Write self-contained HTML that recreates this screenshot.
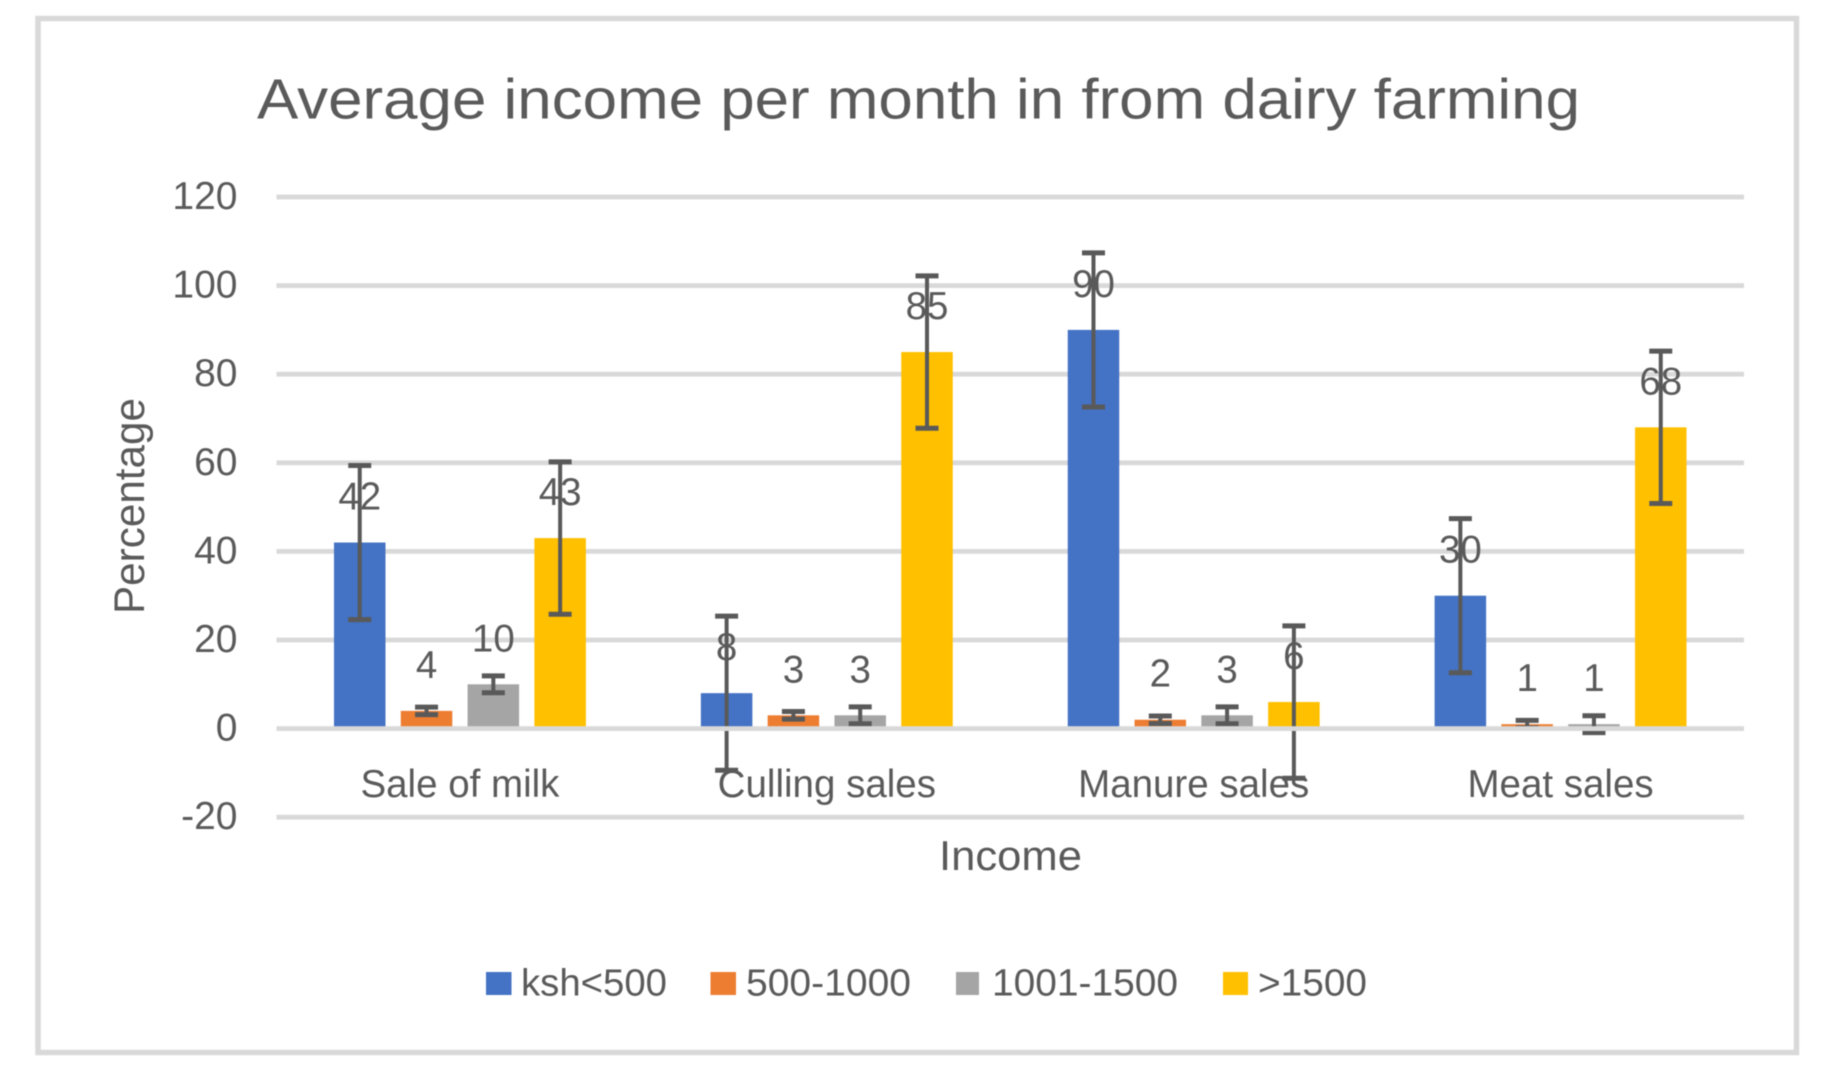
<!DOCTYPE html>
<html lang="en">
<head>
<meta charset="utf-8">
<title>Average income per month from dairy farming</title>
<style>
html,body{margin:0;padding:0;background:#fff;}
svg{display:block;filter:blur(0.6px);}
text{font-family:"Liberation Sans",sans-serif;fill:#5a5a5a;}
</style>
</head>
<body>
<svg id="chart" xmlns="http://www.w3.org/2000/svg" width="1826" height="1077" viewBox="0 0 1826 1077">
  <rect x="0" y="0" width="1826" height="1077" fill="#ffffff"/>
  <rect x="38" y="18.5" width="1758.500" height="1034" fill="#ffffff" stroke="#d9d9d9" stroke-width="5.500"/>
  <text x="257" y="118.500" font-size="57" textLength="1323" lengthAdjust="spacingAndGlyphs">Average income per month in from dairy farming</text>
  <g id="grid"></g>
  <g id="yticks"></g>
  <g id="bars"></g>
  <g id="labels"></g>
  <g id="errors"></g>
  <g id="zero"></g>
  <g id="cats"></g>
  <text transform="translate(144 614) rotate(-90)" x="0" y="0" font-size="43" textLength="216" lengthAdjust="spacingAndGlyphs">Percentage</text>
  <text x="939" y="870" font-size="42" textLength="143" lengthAdjust="spacingAndGlyphs">Income</text>
  <g>
    <rect x="486" y="972" width="25.500" height="23" fill="#4472c4"/>
    <text x="521" y="995.500" font-size="38" textLength="146" lengthAdjust="spacingAndGlyphs">ksh&lt;500</text>
    <rect x="710.500" y="972" width="25.500" height="23" fill="#ed7d31"/>
    <text x="746" y="995.500" font-size="38" textLength="165" lengthAdjust="spacingAndGlyphs">500-1000</text>
    <rect x="956" y="972" width="23" height="23" fill="#a5a5a5"/>
    <text x="992" y="995.500" font-size="38" textLength="186" lengthAdjust="spacingAndGlyphs">1001-1500</text>
    <rect x="1223" y="972" width="25" height="23" fill="#ffc000"/>
    <text x="1258" y="995.500" font-size="38" textLength="109" lengthAdjust="spacingAndGlyphs">&gt;1500</text>
  </g>
</svg>
<script>
const categories = ["Sale of milk", "Culling sales", "Manure sales", "Meat sales"];
const yTicks = [120, 100, 80, 60, 40, 20, 0, -20];
const seriesKsh500 = [42, 8, 90, 30];
const series500to1000 = [4, 3, 2, 1];
const series1001to1500 = [10, 3, 3, 1];
const seriesOver1500 = [43, 85, 6, 68];
const errorKsh500 = [17.4, 17.4, 17.4, 17.4];
const error500to1000 = [0.85, 0.85, 0.85, 0.85];
const error1001to1500 = [1.9, 1.9, 1.9, 1.9];
const errorOver1500 = [17.2, 17.2, 17.2, 17.2];

const allSeries = [seriesKsh500, series500to1000, series1001to1500, seriesOver1500];
const allErrors = [errorKsh500, error500to1000, error1001to1500, errorOver1500];
const seriesColors = ["#4472c4", "#ed7d31", "#a5a5a5", "#ffc000"];
const seriesKeys = ["ksh-under-500", "500-1000", "1001-1500", "over-1500"];

const plotLeft = 276.5, plotRight = 1744;
const zeroY = 728.6, unitPx = 4.43;
const barPitch = 66.8, barWidth = 51.5;
const band = (plotRight - plotLeft) / categories.length;
const axisColor = "#d9d9d9", errorColor = "#595959";

function yScale(v) { return zeroY - v * unitPx; }
function groupCenter(c) { return plotLeft + band * (c + 0.5); }
function barCenter(c, s) { return groupCenter(c) + (s - 1.5) * barPitch; }

function make(tag, parentId, props, content) {
  const el = document.createElementNS("http://www.w3.org/2000/svg", tag);
  for (const k in props) el.setAttribute(k, props[k]);
  if (content !== undefined) el.textContent = content;
  document.getElementById(parentId).appendChild(el);
  return el;
}

yTicks.forEach(function (t) {
  if (t !== 0) {
    const line = make("rect", "grid", { x: plotLeft, y: yScale(t) - 2.4, width: plotRight - plotLeft, height: 4.8, fill: axisColor });
    
    
  }
  const label = make("text", "yticks", { x: 237.5, y: yScale(t) + 12, "font-size": 39, "text-anchor": "end" }, String(t));
  
  
});

const zeroLine = make("rect", "zero", { x: plotLeft, y: yScale(0) - 2.4, width: plotRight - plotLeft, height: 4.8, fill: axisColor });



categories.forEach(function (name, c) {
  const cat = make("text", "cats", { x: groupCenter(c), y: 797, "font-size": 38.5, "text-anchor": "middle" }, name);
  
  

  allSeries.forEach(function (values, s) {
    const v = values[c];
    const cx = barCenter(c, s);
    const err = allErrors[s][c];

    const bar = make("rect", "bars", { x: cx - barWidth / 2, y: yScale(v), width: barWidth, height: zeroY - yScale(v), fill: seriesColors[s] });
    
    

    const valueLabel = make("text", "labels", { x: cx, y: yScale(v) - 33, "font-size": 38.5, "text-anchor": "middle" }, String(v));
    
    

    const top = yScale(v + err), bottom = yScale(v - err);
    const stem = make("line", "errors", { x1: cx, x2: cx, y1: top, y2: bottom, stroke: errorColor, "stroke-width": 4 });
    
    

    const capTop = make("line", "errors", { x1: cx - 11.5, x2: cx + 11.5, y1: top, y2: top, stroke: errorColor, "stroke-width": 5 });
    
    

    const capBottom = make("line", "errors", { x1: cx - 11.5, x2: cx + 11.5, y1: bottom, y2: bottom, stroke: errorColor, "stroke-width": 5 });
    
    
  });
});
</script>
</body>
</html>
